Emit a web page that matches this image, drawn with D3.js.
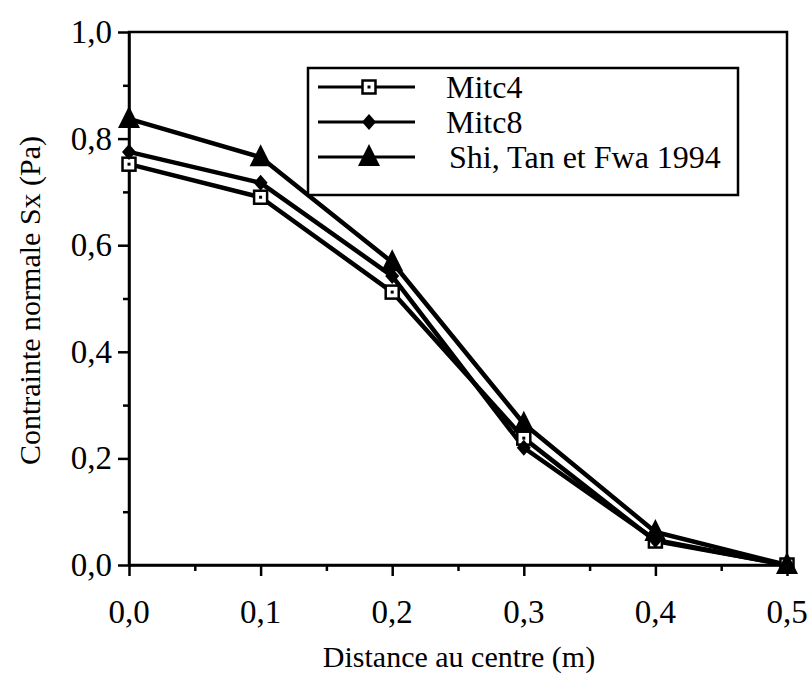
<!DOCTYPE html>
<html>
<head>
<meta charset="utf-8">
<script src="https://cdn.jsdelivr.net/npm/d3@7"></script>
<style>
  body { margin: 0; background: #fff; }
  svg { display: block; }
  text { font-family: "Liberation Serif", "Times New Roman", serif; fill: #000; }
</style>
</head>
<body>
<svg id="chart" width="808" height="679"></svg>
<script>
// Distance from the centre (m)
const distances = [0.0, 0.1, 0.2, 0.3, 0.4, 0.5];
// Normal stress Sx (Pa)
const mitc4 = [0.752, 0.690, 0.512, 0.238, 0.045, 0.0];
const mitc8 = [0.775, 0.717, 0.542, 0.220, 0.047, 0.0];
const shiTanFwa = [0.837, 0.765, 0.568, 0.265, 0.062, 0.0];
const seriesNames = ["Mitc4", "Mitc8", "Shi, Tan et Fwa 1994"];
const xTicks = [0.0, 0.1, 0.2, 0.3, 0.4, 0.5];
const yTicks = [0.0, 0.2, 0.4, 0.6, 0.8, 1.0];

const svg = d3.select("#chart");
const m = { left: 129, right: 787, top: 32, bottom: 565 };

const x = d3.scaleLinear().domain([0, 0.5]).range([m.left, m.right]);
const y = d3.scaleLinear().domain([0, 1]).range([m.bottom, m.top]);
const fmt = d => d3.format(".1f")(d).replace(".", ",");

// frame (top and right edges)
svg.append("rect")
  .attr("x", m.left).attr("y", m.top)
  .attr("width", m.right - m.left).attr("height", m.bottom - m.top)
  .attr("fill", "none").attr("stroke", "#000").attr("stroke-width", 2.5);

// x axis
const xAxis = svg.append("g").attr("transform", `translate(0,${m.bottom})`);
xAxis.call(d3.axisBottom(x).tickValues(d3.range(0, 0.501, 0.05)).tickSize(0).tickFormat(""));
xAxis.select(".domain").attr("stroke-width", 2.5);
xAxis.selectAll(".tick").append("line")
  .attr("y2", (d, i) => i % 2 === 0 ? 11 : 6)
  .attr("stroke", "#000").attr("stroke-width", 2.5);
svg.append("g").selectAll("text").data(xTicks).join("text")
  .attr("x", d => x(d)).attr("y", 623)
  .attr("text-anchor", "middle").attr("font-size", 33).text(fmt);

// y axis
const yAxis = svg.append("g").attr("transform", `translate(${m.left},0)`);
yAxis.call(d3.axisLeft(y).tickValues(d3.range(0, 1.001, 0.1)).tickSize(0).tickFormat(""));
yAxis.select(".domain").attr("stroke-width", 2.5);
yAxis.selectAll(".tick").append("line")
  .attr("x2", (d, i) => i % 2 === 0 ? -11 : -6)
  .attr("stroke", "#000").attr("stroke-width", 2.5);
svg.append("g").selectAll("text").data(yTicks).join("text")
  .attr("x", 112).attr("y", d => y(d) + 11)
  .attr("text-anchor", "end").attr("font-size", 33).text(fmt);

// axis titles
svg.append("text").attr("x", 459).attr("y", 667)
  .attr("text-anchor", "middle").attr("font-size", 30).text("Distance au centre (m)");
svg.append("text")
  .attr("transform", `translate(40,${(m.top + m.bottom) / 2 + 2}) rotate(-90)`)
  .attr("text-anchor", "middle").attr("font-size", 30).text("Contrainte normale Sx (Pa)");

// marker drawing
function marker(g, kind) {
  if (kind === 0) {
    g.append("rect").attr("x", -6.5).attr("y", -6.5).attr("width", 13).attr("height", 13)
      .attr("fill", "#fff").attr("stroke", "#000").attr("stroke-width", 2.5);
    g.append("rect").attr("x", -1.5).attr("y", -1.5).attr("width", 3).attr("height", 3).attr("fill", "#000");
  } else if (kind === 1) {
    g.append("path").attr("d", "M0,-8L7,0L0,8L-7,0Z").attr("fill", "#000");
  } else {
    g.append("path").attr("d", "M0,-13L11,9L-11,9Z").attr("fill", "#000");
  }
}

const allSeries = [mitc4, mitc8, shiTanFwa];
const line = d3.line().x((d, i) => x(distances[i])).y(d => y(d));

allSeries.forEach((vals, k) => {
  svg.append("path").datum(vals)
    .attr("d", line).attr("fill", "none")
    .attr("stroke", "#000").attr("stroke-width", 4.5).attr("stroke-linejoin", "round");
});
allSeries.forEach((vals, k) => {
  vals.forEach((v, i) => {
    marker(svg.append("g").attr("transform", `translate(${x(distances[i])},${y(v)})`), k);
  });
});

// legend
const lg = svg.append("g");
lg.append("rect").attr("x", 308).attr("y", 68).attr("width", 430).attr("height", 127)
  .attr("fill", "#fff").attr("stroke", "#000").attr("stroke-width", 2.5);
seriesNames.forEach((name, k) => {
  const ly = 87 + k * 35;
  lg.append("line").attr("x1", 318).attr("x2", 415).attr("y1", ly).attr("y2", ly)
    .attr("stroke", "#000").attr("stroke-width", 3);
  marker(lg.append("g").attr("transform", `translate(369,${ly})`), k);
  lg.append("text").attr("x", k === 2 ? 449 : 446).attr("y", ly + 11)
    .attr("font-size", 32).text(name);
});
</script>
</body>
</html>
